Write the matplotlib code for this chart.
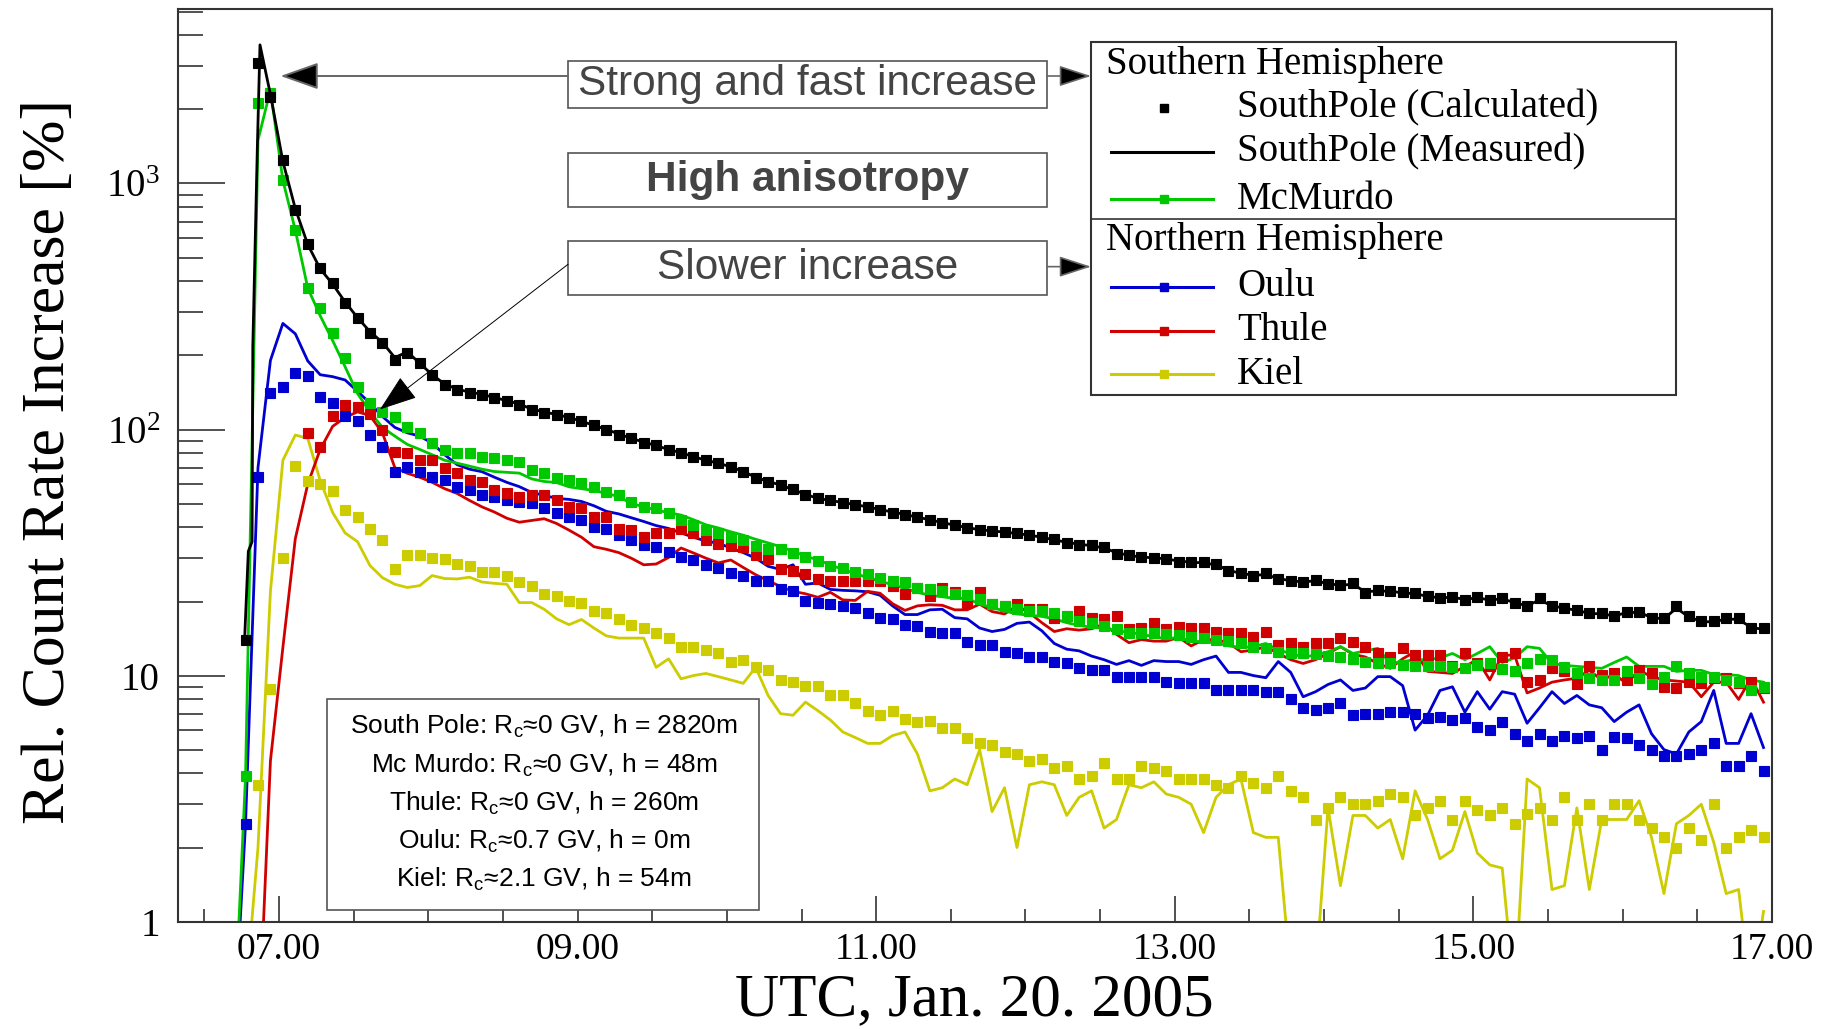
import numpy as np
import matplotlib
matplotlib.use("Agg")
import matplotlib.pyplot as plt
from matplotlib.patches import Rectangle
from matplotlib.lines import Line2D
from matplotlib.ticker import FixedLocator, FixedFormatter, MultipleLocator, LogLocator, NullFormatter

plt.rcParams['font.family'] = ['Liberation Serif', 'DejaVu Serif']

# 5 min samples, hours UT
t = 6.693 + np.arange(124) / 12.0

# SouthPole calculated (markers)
sp_calc = [0.3, 14, 3100, 2250, 1250, 780, 570, 455, 395, 327,
           284, 247, 225, 192, 205, 187, 166, 152, 145, 141,
           138, 134, 130, 126, 120, 117, 115, 111, 108, 104.5,
           100, 95, 92.5, 88, 86.5, 82.6, 80, 77.6, 75, 73,
           70.7, 67.5, 63.5, 61, 59.5, 57.5, 54, 52.5, 51.5, 50.5,
           49.5, 48.5, 47.2, 46, 45, 44, 42.9, 41.8, 40.9, 39.8,
           39.1, 38.6, 38.5, 37.8, 37.3, 36.6, 35.8, 34.6, 34.0, 33.8,
           33.2, 31.3, 30.8, 30.3, 30.0, 29.8, 29.0, 28.9, 28.9, 28.4,
           26.5, 26.0, 25.5, 26.0, 24.6, 24.3, 24.1, 24.5, 23.6, 23.4,
           23.7, 21.6, 22.3, 22.0, 21.9, 21.6, 21.0, 20.6, 20.9, 20.3,
           20.9, 20.3, 20.6, 19.7, 19.1, 20.6, 19.1, 18.8, 18.5, 17.9,
           17.9, 17.4, 18.2, 18.2, 17.1, 17.1, 19.1, 17.4, 16.6, 16.6,
           17.1, 17.1, 15.6, 15.6]

# SouthPole measured (line): onset at 1 min steps, then the 5 min grid from t[3]
sp_rise_t = [6.77, 6.795, 6.82, 6.825, 6.84, 6.855, 6.873]
sp_rise = [14, 32, 35, 217, 540, 1370, 3660]
sp_meas = [2300, 1230, 790, 565, 450, 390, 330, 285, 250, 226,
           196, 207, 186, 167, 153, 146, 142, 139, 135, 131,
           127, 121, 118, 115, 112, 108, 104, 100, 96, 92,
           89, 86, 83, 80.5, 77.6, 75, 73, 70.5, 67.5, 64,
           61.5, 59.5, 57, 54.5, 52.5, 51.5, 50.5, 49.5, 48.5, 47.3,
           46.2, 45.2, 44, 43, 41.8, 40.9, 39.9, 39.2, 38.7, 38.3,
           37.8, 37.2, 36.5, 35.6, 34.8, 34.2, 33.7, 33.0, 31.6, 30.8,
           30.3, 30.1, 29.8, 29.2, 28.9, 28.7, 28.2, 26.8, 26.0, 25.6,
           25.7, 24.8, 24.3, 24.0, 24.3, 23.6, 23.3, 23.5, 21.9, 22.1,
           22.0, 21.7, 21.5, 21.0, 20.7, 20.8, 20.4, 20.7, 20.3, 20.5,
           19.8, 19.2, 20.3, 19.2, 18.8, 18.4, 17.9, 17.8, 17.5, 18.0,
           18.1, 17.2, 17.0, 18.8, 17.3, 16.6, 16.5, 17.0, 16.9, 15.7,
           15.4]

mcm_calc = [0.3, 3.9, 2120, 2330, 1030, 646, 376, 313, 247, 196,
            149, 128, 118, 112, 102, 96.5, 88, 82.6, 80.4, 80.4,
            77.6, 76.4, 75, 74, 68.4, 66.6, 63.5, 62.6, 60.9, 58.6,
            55.8, 54.2, 50.9, 48.6, 48, 45.9, 43, 41, 39, 38,
            36.7, 35.6, 33.5, 32.8, 32.6, 31.5, 30.3, 29.2, 28.0, 27.4,
            26.3, 25.8, 25.0, 24.3, 24.0, 22.8, 22.5, 22.1, 21.4, 21.3,
            20.4, 19.5, 19.2, 18.6, 18.3, 18.3, 18.0, 17.4, 16.6, 16.4,
            15.9, 15.4, 14.9, 14.9, 14.9, 14.8, 14.6, 14.4, 14.2, 14.0,
            13.8, 13.5, 13.1, 12.9, 12.5, 12.3, 12.3, 12.2, 12.0, 11.9,
            11.7, 11.4, 11.3, 11.2, 11.0, 10.9, 10.9, 10.9, 10.8, 10.7,
            11.0, 11.2, 10.6, 10.4, 11.2, 11.7, 11.6, 10.8, 10.2, 9.8,
            9.6, 9.6, 10.4, 9.8, 9.2, 9.9, 10.9, 10.2, 9.9, 9.9,
            9.6, 9.4, 8.7, 9.0]

mcm_meas = [0.3, 3.9, 1500, 2400, 1030, 646, 376, 290, 230, 180,
            140, 118, 102, 94, 87, 83, 79, 75, 73, 71,
            69, 67.5, 67, 66.5, 63, 61.5, 60.9, 58.5, 57.5, 56.5,
            55, 53.4, 50, 48.6, 47, 46, 44.9, 43, 41, 39.8,
            38.4, 37.2, 35.8, 34.6, 33.4, 32.0, 30.6, 29.5, 28.2, 27.0,
            26.0, 25.0, 24.2, 23.4, 22.6, 21.8, 21.2, 20.9, 20.6, 20.6,
            19.5, 18.9, 18.3, 17.8, 17.6, 17.4, 17.0, 16.4, 16.0, 15.7,
            15.6, 15.2, 15.0, 14.7, 14.4, 14.1, 14.3, 13.8, 13.7, 13.6,
            13.2, 13.0, 13.1, 13.5, 12.7, 12.3, 11.9, 12.1, 12.5, 13.1,
            12.3, 12.6, 12.9, 11.2, 11.4, 11.6, 11.6, 11.8, 12.3, 11.6,
            12.3, 13.1, 11.3, 11.8, 13.1, 12.9, 11.2, 11.0, 10.9, 10.8,
            10.7, 11.3, 11.9, 10.9, 10.9, 10.9, 10.4, 10.5, 10.5, 10.1,
            10.1, 10.0, 9.6, 9.4]

oulu_calc = [0.3, 2.5, 64, 141, 149, 170, 165, 136, 128, 113,
             108, 95, 85, 67.4, 70.6, 67.4, 64.4, 62.4, 58.6, 56.8,
             54.2, 53.4, 51.7, 50.9, 50.1, 47.8, 45.6, 44.2, 42.9, 40.3,
             39.6, 37.2, 35.6, 34, 33.4, 31.9, 30.4, 29.5, 28.2, 27.3,
             26.1, 25.3, 24.3, 24.3, 22.4, 22.1, 20.1, 19.8, 19.5, 19.2,
             18.9, 18.0, 17.1, 16.9, 16.1, 15.9, 15.1, 14.9, 14.9, 13.7,
             13.3, 13.3, 12.5, 12.3, 11.9, 11.9, 11.4, 11.2, 10.7, 10.5,
             10.5, 9.9, 9.9, 9.9, 9.9, 9.4, 9.3, 9.3, 9.3, 8.7,
             8.7, 8.7, 8.7, 8.55, 8.6, 8.0, 7.4, 7.25, 7.4, 7.7,
             6.9, 7.0, 7.0, 7.1, 7.1, 7.0, 6.7, 6.8, 6.6, 6.7,
             6.2, 6.0, 6.5, 5.8, 5.4, 5.8, 5.4, 5.7, 5.6, 5.7,
             5.0, 5.65, 5.6, 5.2, 5.0, 4.7, 4.7, 4.8, 5.0, 5.3,
             4.3, 4.3, 4.7, 4.1]

oulu_meas = [0.3, 2.5, 70, 191, 270, 245, 190, 167, 164, 159,
             143, 128, 113, 102, 97, 94, 88, 79, 72, 69,
             67.4, 64, 61, 58.6, 55.5, 54, 52.5, 52, 51, 49,
             46.5, 45.4, 43.8, 42.3, 40.7, 39.6, 38, 36.5, 35.2, 34.5,
             33, 31.6, 30, 27.8, 27, 28.2, 23.5, 23.8, 22.4, 22.2,
             22.1, 21.9, 21.2, 19.2, 17.7, 17.7, 18.5, 18.6, 17.2, 17.0,
             15.6, 15.1, 15.4, 16.3, 16.5, 15.2, 13.5, 12.8, 12.6, 12.0,
             11.6, 11.1, 11.5, 11.0, 11.5, 11.4, 11.4, 11.1, 11.6, 12.0,
             10.3, 10.3, 10.0, 9.8, 11.4, 10.3, 8.2, 8.6, 9.2, 9.6,
             8.7, 8.9, 9.9, 9.9, 9.1, 6.0, 6.9, 8.7, 9.0, 7.1,
             8.6, 7.3, 8.6, 8.4, 6.4, 7.4, 8.6, 7.7, 8.3, 7.6,
             7.4, 6.5, 7.1, 7.6, 5.8, 5.0, 4.8, 5.9, 6.5, 8.7,
             5.3, 5.3, 7.0, 5.1]

thule_calc = [0.3, 0.3, 0.3, 0.3, 0.3, 0.3, 97, 85, 113, 126,
              123, 116, 100, 81, 80, 75, 75, 69.5, 66.4, 62.4,
              61.4, 56.8, 55.1, 53.4, 54.2, 54.2, 51.7, 48.6, 47.8, 44.2,
              44.2, 39.6, 39.1, 36.7, 37.8, 37.8, 39.6, 37.8, 35.5, 34.4,
              33.6, 33.3, 30.8, 29.9, 27.2, 26.7, 25.9, 24.7, 24.3, 24.3,
              24.3, 24.3, 24.3, 23.2, 21.4, 22.8, 21.1, 22.8, 21.8, 19.8,
              21.8, 19.5, 19.2, 19.5, 18.6, 18.6, 17.2, 17.4, 18.3, 17.2,
              16.9, 17.4, 15.4, 15.6, 16.4, 15.4, 15.8, 15.6, 15.6, 15.1,
              14.9, 14.9, 14.4, 15.1, 13.3, 13.5, 13.1, 13.5, 13.5, 14.2,
              13.7, 13.1, 12.3, 11.9, 12.9, 12.1, 12.1, 12.1, 10.9, 12.3,
              11.2, 10.9, 11.9, 12.3, 9.4, 9.6, 10.7, 10.4, 9.2, 10.9,
              10.1, 10.2, 9.6, 10.5, 10.2, 9.0, 8.9, 9.4, 9.3, 9.75,
              9.75, 9.3, 9.4, 8.9]

thule_meas = [0.3, 0.3, 0.3, 4.5, 13, 36, 60, 83, 103, 112,
              118, 114, 97, 70, 66.4, 64, 61, 57.5, 55, 51.5,
              48.5, 46.2, 43.6, 42, 42.7, 43.4, 41.5, 39, 36.5, 33.4,
              32.6, 31.6, 30, 28.2, 28.4, 30.2, 33, 31.5, 30, 28.7,
              29.5, 27.5, 25.7, 24.3, 23, 22.0, 21.5, 20.8, 21.8, 20.3,
              20.2, 22.0, 21.6, 19.6, 18.4, 19.2, 19.4, 19.3, 18.5, 18.5,
              19.5, 18.2, 17.8, 19.2, 18.0, 16.4, 15.1, 15.5, 15.3, 15.5,
              16.2, 14.7, 13.6, 14.0, 13.8, 13.8, 14.3, 13.2, 14.0, 14.0,
              13.6, 12.5, 12.7, 13.1, 12.3, 11.6, 11.2, 11.6, 12.3, 13.1,
              12.2, 11.9, 11.2, 10.7, 11.7, 12.5, 10.4, 10.3, 10.2, 10.9,
              11.6, 9.6, 12.1, 12.1, 8.5, 8.9, 9.4, 9.6, 9.75, 10.5,
              9.6, 10.1, 9.3, 10.5, 9.9, 9.6, 9.5, 9.4, 8.2, 9.4,
              9.4, 8.0, 9.75, 7.8]

kiel_calc = [0.2, 0.6, 3.6, 8.8, 30, 71, 62, 60, 56, 47,
             44, 39.6, 35.5, 27, 31, 31, 30, 29.8, 28.5, 28,
             26.3, 26.3, 25.5, 24, 23.2, 21.4, 21.1, 20.1, 19.8, 18.3,
             18, 16.9, 16.1, 15.6, 14.9, 14.2, 13.1, 13.1, 12.7, 12.3,
             11.4, 11.6, 10.8, 10.5, 9.56, 9.4, 9.1, 9.1, 8.3, 8.3,
             7.7, 7.2, 6.9, 7.2, 6.65, 6.45, 6.55, 6.1, 6.1, 5.6,
             5.3, 5.2, 4.9, 4.8, 4.5, 4.6, 4.2, 4.3, 3.8, 3.9,
             4.4, 3.8, 3.8, 4.3, 4.2, 4.1, 3.8, 3.8, 3.8, 3.6,
             3.5, 3.9, 3.65, 3.5, 3.9, 3.4, 3.2, 2.6, 2.9, 3.2,
             3.0, 3.0, 3.1, 3.3, 3.2, 2.7, 2.9, 3.1, 2.6, 3.1,
             2.85, 2.7, 2.9, 2.5, 2.75, 2.9, 2.6, 3.2, 2.6, 3.0,
             2.6, 3.0, 3.0, 2.6, 2.4, 2.2, 2.0, 2.4, 2.15, 3.0,
             2.0, 2.2, 2.35, 2.2]

kiel_meas = [0.3, 0.5, 2.0, 22, 75, 95, 92, 62, 46, 38,
             35, 28, 25, 23.5, 22.8, 23.2, 25.5, 24.8, 24.7, 25.1,
             24, 23.7, 23.5, 19.8, 19.8, 18.6, 17, 16.1, 16.9, 15.6,
             14.5, 14.2, 14.2, 14.2, 10.8, 11.7, 9.7, 10.0, 10.2, 9.9,
             9.6, 9.3, 10.8, 8.3, 7.0, 6.9, 7.8, 7.2, 6.6, 5.9,
             5.6, 5.3, 5.3, 5.7, 5.9, 4.8, 3.4, 3.5, 3.8, 3.6,
             5.0, 2.8, 3.5, 2.0, 3.6, 3.7, 3.6, 2.7, 3.2, 3.4,
             2.4, 2.6, 3.6, 3.5, 3.7, 3.3, 3.2, 3.0, 2.3, 3.2,
             3.6, 3.8, 2.3, 2.2, 2.2, 0.6, 0.5, 0.6, 2.9, 1.4,
             2.7, 2.7, 2.4, 2.6, 1.8, 3.4, 2.6, 1.8, 1.95, 2.8,
             1.9, 1.7, 1.65, 0.5, 3.8, 3.5, 1.35, 1.4, 2.9, 1.35,
             2.6, 2.6, 2.6, 3.1, 2.2, 1.3, 2.5, 2.7, 3.0, 2.1,
             1.3, 1.35, 0.5, 1.1]

hour_ticks = [7, 9, 11, 13, 15, 17]
hour_labels = ['07.00', '09.00', '11.00', '13.00', '15.00', '17.00']
y_ticks = [1, 10, 100, 1000]
y_labels = ['1', '10', r'$\mathregular{10^{2}}$', r'$\mathregular{10^{3}}$']

station_info = [
    ('South Pole', '0', '2820m'),
    ('Mc Murdo', '0', '48m'),
    ('Thule', '0', '260m'),
    ('Oulu', '0.7', '0m'),
    ('Kiel', '2.1', '54m'),
]

GREEN = '#00c800'
BLUE = '#0000d0'
RED = '#d00000'
YELLOW = '#cccc00'

fig = plt.figure(figsize=(18.34, 10.29), dpi=100)
ax = fig.add_axes([0.09706, 0.10437, 0.86914, 0.88649])
ax.set_yscale('log')
ax.set_xlim(6.324, 17.0)
ax.set_ylim(1, 5100)

t_sp_meas = np.concatenate([sp_rise_t, t[3:]])
y_sp_meas = np.concatenate([sp_rise, sp_meas])

series = [
    (kiel_meas, kiel_calc, YELLOW),
    (oulu_meas, oulu_calc, BLUE),
    (thule_meas, thule_calc, RED),
    (mcm_meas, mcm_calc, GREEN),
]
for meas, calc, col in series:
    ax.plot(t, meas, color=col, lw=2.0, zorder=2)
    ax.plot(t, calc, ls='none', marker='s', ms=7.2, mec=col, mfc=col, mew=0.8, zorder=3)

ax.plot(t_sp_meas, y_sp_meas, color='black', lw=2.0, zorder=4)
ax.plot(t, sp_calc, ls='none', marker='s', ms=7.2, color='black', mew=0.8, zorder=4)

# axes styling (ROOT-like)
for sp in ax.spines.values():
    sp.set_color('#333333')
    sp.set_linewidth(1.5)
ax.xaxis.set_major_locator(FixedLocator(hour_ticks))
ax.xaxis.set_major_formatter(FixedFormatter(hour_labels))
ax.xaxis.set_minor_locator(MultipleLocator(0.5))
ax.yaxis.set_major_locator(FixedLocator(y_ticks))
ax.yaxis.set_major_formatter(FixedFormatter(y_labels))
ax.yaxis.set_minor_locator(LogLocator(base=10, subs=np.arange(2, 10), numticks=30))
ax.yaxis.set_minor_formatter(NullFormatter())
ax.tick_params(axis='y', which='major', direction='in', length=34, width=1.2,
               color='#333333', pad=13, labelsize=28)
ax.tick_params(axis='y', which='minor', direction='in', length=18, width=1.2, color='#333333')
ax.tick_params(axis='x', which='major', direction='in', length=19, width=1.2,
               color='#333333', pad=8, labelsize=27)
ax.tick_params(axis='x', which='minor', direction='in', length=9.5, width=1.2, color='#333333')

ax.text(0.4994, -0.1025, 'UTC, Jan. 20. 2005', transform=ax.transAxes,
        ha='center', va='baseline', fontsize=44)
ax.text(-0.081, 0.504, 'Rel. Count Rate Increase [%]', transform=ax.transAxes,
        ha='center', va='center', rotation=90, fontsize=44.5)

# annotation boxes
sans = ['Liberation Sans', 'DejaVu Sans']
boxes = [
    ('Strong and fast increase', 0.892, 0.0514, 'normal'),
    ('High anisotropy', 0.7833, 0.0592, 'bold'),
    ('Slower increase', 0.6869, 0.0592, 'normal'),
]
for txt, y0, h, wt in boxes:
    ax.add_patch(Rectangle((0.2447, y0), 0.3005, h, transform=ax.transAxes,
                           fc='white', ec='#555555', lw=1.2, zorder=6))
    ax.text(0.2447 + 0.3005 / 2, y0 + h / 2, txt, transform=ax.transAxes,
            ha='center', va='center', fontsize=30.5, fontweight=wt,
            family=sans, color='#444444', zorder=7)

def arrow(start, tip, ec, lw, hl, hw):
    ax.annotate('', xy=tip, xytext=start, xycoords='axes fraction',
                textcoords='axes fraction', zorder=8,
                arrowprops=dict(arrowstyle='-|>,head_length=%g,head_width=%g' % (hl, hw),
                                mutation_scale=10, fc='black', ec=ec, lw=lw,
                                shrinkA=0, shrinkB=0))

arrow((0.2447, 0.927), (0.0643, 0.927), '#666666', 1.4, 2.4, 0.85)
arrow((0.5452, 0.927), (0.5728, 0.927), '#666666', 1.2, 2.0, 0.65)
arrow((0.2447, 0.7206), (0.1267, 0.5615), 'black', 0.7, 2.4, 0.85)
arrow((0.5452, 0.718), (0.5728, 0.718), '#666666', 1.2, 2.0, 0.65)

# legend drawn by hand (two hemisphere blocks)
lx0, ly0, lw_, lh = 0.5728, 0.5773, 0.367, 0.387
ax.add_patch(Rectangle((lx0, ly0), lw_, lh, transform=ax.transAxes,
                       fc='white', ec='#333333', lw=1.5, zorder=6))
ax.plot([lx0, lx0 + lw_], [0.7706, 0.7706], transform=ax.transAxes,
        color='#333333', lw=1.2, zorder=7)
legend_rows = [
    ('head', 'Southern Hemisphere', None, 0.9401),
    ('dot', 'SouthPole (Calculated)', 'black', 0.8918),
    ('line', 'SouthPole (Measured)', 'black', 0.8436),
    ('both', 'McMurdo', GREEN, 0.7921),
    ('head', 'Northern Hemisphere', None, 0.7462),
    ('both', 'Oulu', BLUE, 0.6958),
    ('both', 'Thule', RED, 0.6475),
    ('both', 'Kiel', YELLOW, 0.6003),
]
for kind, label, col, y in legend_rows:
    if kind == 'head':
        ax.text(0.5822, y, label, transform=ax.transAxes, ha='left', va='center',
                fontsize=28, zorder=8)
        continue
    if kind in ('line', 'both'):
        ax.add_line(Line2D([0.5853, 0.6493], [y, y], transform=ax.transAxes,
                           color=col, lw=2.2, zorder=8))
    if kind in ('dot', 'both'):
        ax.add_line(Line2D([0.6186], [y], transform=ax.transAxes, ls='none',
                           marker='s', ms=6, color=col, zorder=9))
    ax.text(0.6644, y, label, transform=ax.transAxes, ha='left', va='center',
            fontsize=28, zorder=8)

# station info box
ax.add_patch(Rectangle((0.0935, 0.0127), 0.2707, 0.2313, transform=ax.transAxes,
                       fc='white', ec='#555555', lw=1.2, zorder=6))
info_y = [0.2144, 0.1717, 0.1294, 0.0883, 0.0462]
for (name, rc, h), y in zip(station_info, info_y):
    s = '%s: R$_\\mathregular{c}$\u2248%s GV, h = %s' % (name, rc, h)
    ax.text(0.2296, y, s, transform=ax.transAxes, ha='center', va='center',
            fontsize=19, family=sans, color='black', zorder=7)

fig.savefig('out.png', dpi=100, facecolor='white')
